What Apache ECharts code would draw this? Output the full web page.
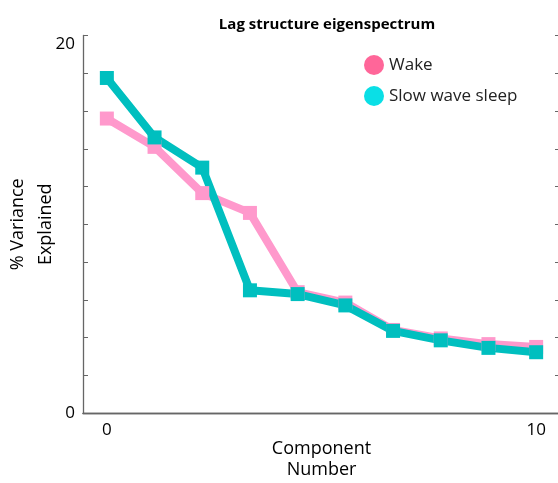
<!DOCTYPE html>
<html>
<head>
<meta charset="utf-8">
<script src="https://cdn.jsdelivr.net/npm/echarts@6/dist/echarts.min.js"></script>
<style>html,body{margin:0;padding:0;background:#fff;}#c{width:558px;height:483px;}</style>
</head>
<body>
<div id="c"></div>
<script>
var components = ['0','1','2','3','4','5','6','7','8','10'];
var wake = [15.6, 14.1, 11.65, 10.6, 6.4, 5.85, 4.4, 3.95, 3.65, 3.5];
var sws  = [17.75, 14.6, 13.0, 6.5, 6.3, 5.7, 4.35, 3.85, 3.45, 3.22];
var yTickLabels = [0, 20];
var xTickLabels = ['0', '10'];

var FONT = 'Open Sans';
var axisColor = '#666';
var chart = echarts.init(document.getElementById('c'), null, {renderer: 'canvas'});
chart.setOption({
  animation: false,
  backgroundColor: '#fff',
  title: {
    text: 'Lag structure eigenspectrum',
    left: 322, top: 12, textAlign: 'center',
    textStyle: {fontFamily: FONT, fontWeight: 'bold', fontSize: 15, color: '#000'}
  },
  legend: {
    orient: 'vertical', left: 359, top: 50, itemGap: 11,
    icon: 'circle', itemWidth: 20, itemHeight: 20,
    textStyle: {fontFamily: FONT, fontSize: 17, color: '#222'},
    data: [
      {name: 'Wake', itemStyle: {color: '#ff6699'}},
      {name: 'Slow wave sleep', itemStyle: {color: '#0adfe6'}}
    ]
  },
  grid: {left: 83, top: 35.5, right: -2, bottom: 70, containLabel: false, outerBoundsMode: 'none'},
  xAxis: [{
    type: 'category', data: components, boundaryGap: true,
    axisLine: {lineStyle: {color: axisColor, width: 1.3}},
    axisTick: {inside: true, alignWithLabel: true, length: 5, lineStyle: {color: axisColor}},
    axisLabel: {
      fontFamily: FONT, fontSize: 17, color: '#000', margin: 9, interval: 0,
      formatter: function (v) { return xTickLabels.indexOf(v) >= 0 ? v : ''; }
    },
    name: 'Component\nNumber', nameLocation: 'middle', nameGap: 25, nameMoveOverlap: false,
    nameTextStyle: {fontFamily: FONT, fontSize: 18, color: '#000', lineHeight: 21}
  }, {
    type: 'category', data: components, boundaryGap: true, position: 'top',
    axisLine: {lineStyle: {color: axisColor, width: 1.3}},
    axisTick: {inside: true, alignWithLabel: true, length: 5, lineStyle: {color: axisColor}},
    axisLabel: {show: false}
  }],
  yAxis: [{
    type: 'value', min: 0, max: 20, interval: 2,
    splitLine: {show: false},
    axisLine: {show: true, lineStyle: {color: axisColor, width: 1.3}},
    axisTick: {show: true, inside: true, length: 5, lineStyle: {color: axisColor}},
    axisLabel: {
      fontFamily: FONT, fontSize: 17, color: '#000', margin: 8,
      verticalAlignMaxLabel: 'top',
      formatter: function (v) { return yTickLabels.indexOf(v) >= 0 ? String(v) : ''; }
    },
    name: '% Variance\nExplained', nameLocation: 'middle', nameGap: 23, nameRotate: 90, nameMoveOverlap: false,
    nameTextStyle: {fontFamily: FONT, fontSize: 18, color: '#000', lineHeight: 28}
  }, {
    type: 'value', min: 0, max: 20, interval: 2, position: 'right',
    splitLine: {show: false},
    axisLine: {show: true, lineStyle: {color: axisColor, width: 1.3}},
    axisTick: {show: true, inside: true, length: 5, lineStyle: {color: axisColor}},
    axisLabel: {show: false}
  }],
  series: [{
    name: 'Wake', type: 'line', data: wake,
    symbol: 'rect', symbolSize: 14,
    lineStyle: {color: '#ff99cc', width: 8},
    itemStyle: {color: '#ff99cc'}
  }, {
    name: 'Slow wave sleep', type: 'line', data: sws,
    symbol: 'rect', symbolSize: 14,
    lineStyle: {color: '#00bfbf', width: 8},
    itemStyle: {color: '#00bfbf'}
  }]
});
</script>
</body>
</html>
